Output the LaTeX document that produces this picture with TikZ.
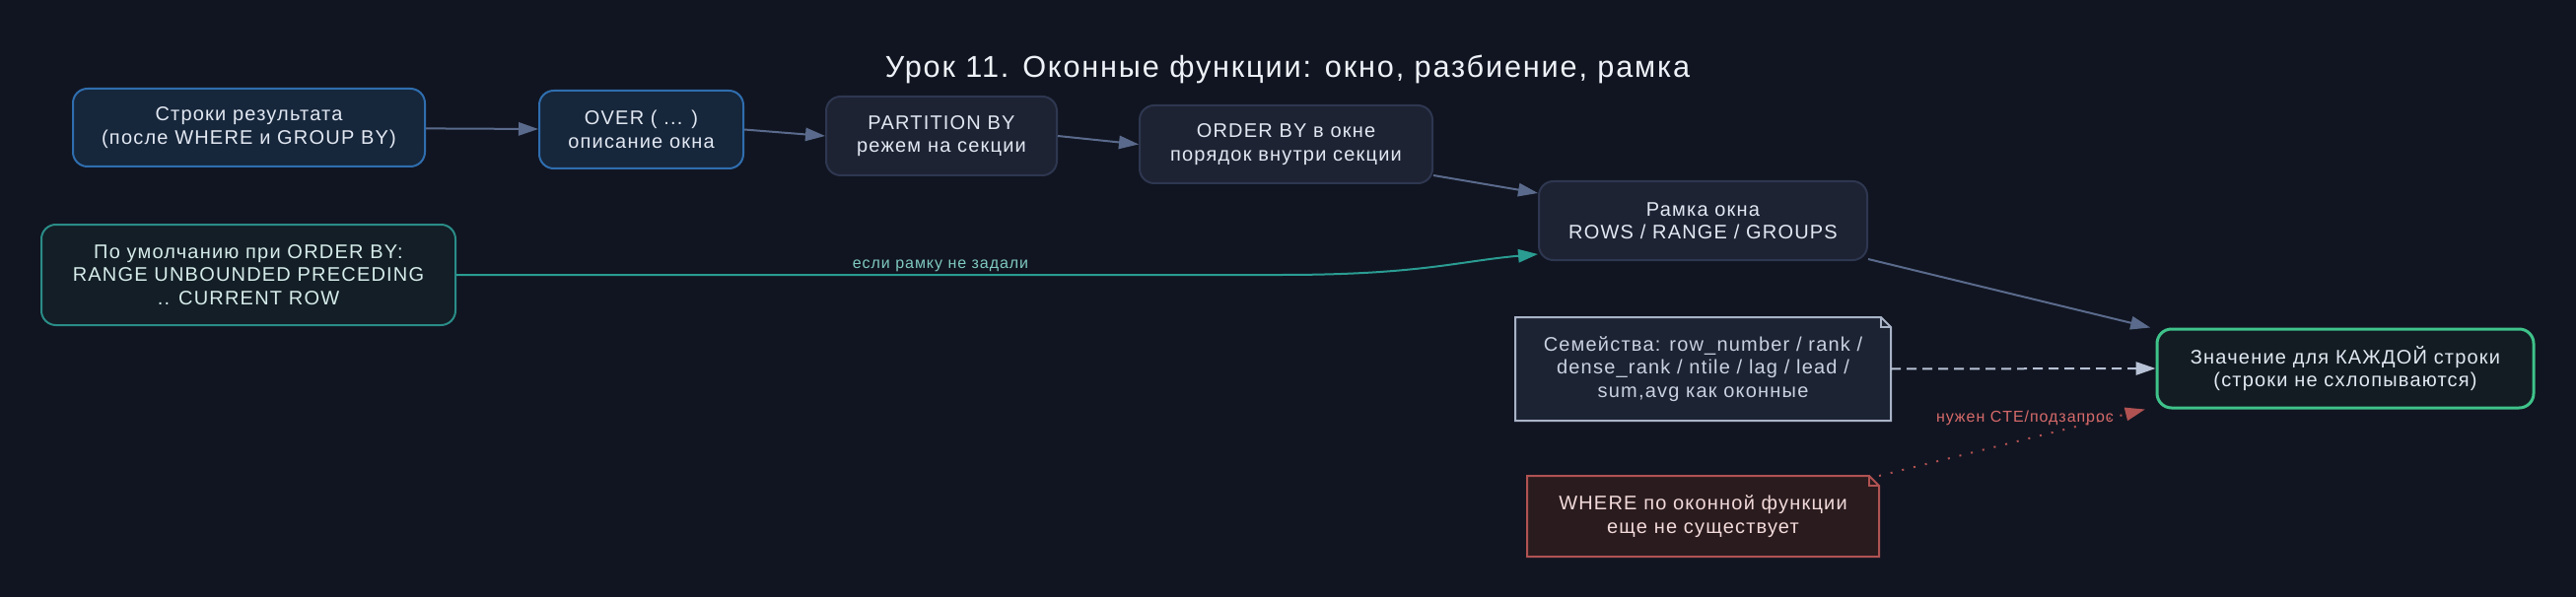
\documentclass[tikz,border=0pt]{standalone}
\usepackage{fontspec}
\setmainfont{Liberation Sans}[LetterSpace=6]
\usetikzlibrary{arrows.meta}

\definecolor{bgcol}{HTML}{111521}
\definecolor{txtcol}{HTML}{E2E8F2}
\definecolor{titlecol}{HTML}{EEF2F8}
\definecolor{bluefill}{HTML}{16263B}
\definecolor{blueline}{HTML}{2F6DAE}
\definecolor{greyfill}{HTML}{1E2334}
\definecolor{greyline}{HTML}{2E3750}
\definecolor{tealfill}{HTML}{131E26}
\definecolor{tealline}{HTML}{2A8C87}
\definecolor{tealtxt}{HTML}{D6ECEA}
\definecolor{greenfill}{HTML}{121C22}
\definecolor{greenline}{HTML}{3FC28A}
\definecolor{famfill}{HTML}{1C2333}
\definecolor{famline}{HTML}{A9B4C8}
\definecolor{famtxt}{HTML}{C9D2E0}
\definecolor{redfill}{HTML}{2A1B1E}
\definecolor{redline}{HTML}{B05252}
\definecolor{redtxt}{HTML}{F2DADA}
\definecolor{edgecol}{HTML}{5A6A8C}
\definecolor{tealedge}{HTML}{2A9C92}
\definecolor{teallabel}{HTML}{7FC9C1}
\definecolor{redlabel}{HTML}{D66A6A}
\definecolor{dashcol}{HTML}{B8C2D6}

\tikzset{every picture/.style={line width=0.75pt}}
\tikzset{
  box/.style={rounded corners=11pt, line width=1.5pt, inner sep=0pt, align=center, text=txtcol, font=\fontsize{15}{17.5}\selectfont},
  bluebox/.style={box, draw=blueline, fill=bluefill},
  greybox/.style={box, draw=greyline, fill=greyfill},
  tealbox/.style={box, draw=tealline, fill=tealfill, text=tealtxt},
  greenbox/.style={box, draw=greenline, fill=greenfill, line width=2.25pt},
  notebox/.style={box, rounded corners=0pt, draw=none},
  arr/.style={line width=1.5pt, -{Triangle[length=15pt,width=10pt]}},
  edgelabel/.style={font=\fontsize{12}{14}\selectfont, inner sep=1pt},
}

\begin{document}
\begin{tikzpicture}[x=0.75pt,y=0.75pt,yscale=-1,xscale=1]
%background, sets the size of the diagram
\fill [bgcol] (0,0) rectangle (2613,606);
\useasboundingbox (0,0) rectangle (2613,606);

% Title
\node (title) [text=titlecol, font=\fontsize{23}{27}\selectfont] at (1306,70) {Урок 11. Оконные функции: окно, разбиение, рамка};

%Top row
\node (rows) [bluebox, minimum width=267.75pt, minimum height=59.25pt] at (252.5,129.5) {Строки результата\\(после WHERE и GROUP BY)};
\node (over) [bluebox, minimum width=155.25pt, minimum height=59.25pt] at (650.5,131.5) {OVER ( ... )\\описание окна};
\node (part) [greybox, minimum width=175.5pt, minimum height=60pt] at (955,138) {PARTITION BY\\режем на секции};
\node (ordr) [greybox, minimum width=222.75pt, minimum height=59.25pt] at (1304.5,146.5) {ORDER BY в окне\\порядок внутри секции};
\node (frame) [greybox, minimum width=249.75pt, minimum height=60pt] at (1727.5,224) {Рамка окна\\ROWS / RANGE / GROUPS};

%Default frame
\node (deflt) [tealbox, minimum width=315pt, minimum height=76.5pt] at (252,279) {По умолчанию при ORDER BY:\\RANGE UNBOUNDED PRECEDING\\.. CURRENT ROW};

%Result
\node (value) [greenbox, minimum width=286.5pt, minimum height=60pt] at (2379,374) {Значение для КАЖДОЙ строки\\(строки не схлопываются)};

%Notes
\node (fam) [notebox, fill=famfill, text=famtxt, minimum width=284.25pt, minimum height=77.25pt] at (1727.5,374.5) {Семейства: row\_number / rank /\\dense\_rank / ntile / lag / lead /\\sum,avg как оконные};
\fill [bgcol] ([xshift=-7.5pt]fam.north east) -- (fam.north east) -- ([yshift=7.5pt]fam.north east) -- cycle;
\draw [famline, line width=1.5pt] (fam.north west) -- ([xshift=-7.5pt]fam.north east) -- ([yshift=7.5pt]fam.north east) -- (fam.south east) -- (fam.south west) -- cycle;
\draw [famline, line width=1.5pt] ([xshift=-7.5pt]fam.north east) -- ([xshift=-7.5pt,yshift=7.5pt]fam.north east) -- ([yshift=7.5pt]fam.north east);

\node (where) [notebox, fill=redfill, text=redtxt, minimum width=266.25pt, minimum height=60pt] at (1727.5,524) {WHERE по оконной функции\\еще не существует};
\fill [bgcol] ([xshift=-7.5pt]where.north east) -- (where.north east) -- ([yshift=7.5pt]where.north east) -- cycle;
\draw [redline, line width=1.5pt] (where.north west) -- ([xshift=-7.5pt]where.north east) -- ([yshift=7.5pt]where.north east) -- (where.south east) -- (where.south west) -- cycle;
\draw [redline, line width=1.5pt] ([xshift=-7.5pt]where.north east) -- ([xshift=-7.5pt,yshift=7.5pt]where.north east) -- ([yshift=7.5pt]where.north east);

%Connectors
\draw [arr, edgecol] (rows) -- (over);
\draw [arr, edgecol] (over.east) -- (part.west);
\draw [arr, edgecol] (part.east) -- (ordr.west);
\draw [arr, edgecol] ([yshift=-6.75pt]ordr.south east) -- ([yshift=9.75pt]frame.north west);
\draw [arr, tealedge] (deflt.east) -- (1300,279) .. controls (1440,279) and (1480,265) .. ([yshift=-5.25pt]frame.south west);
\draw [arr, edgecol] ([yshift=-1.5pt]frame.south east) -- ([xshift=-4pt]value.north west);
\draw [arr, dashcol, dash pattern=on 7.5pt off 4.5pt] (fam.east) -- (value.west);
\draw [arr, redline, dash pattern=on 1.5pt off 7.5pt] (where.north east) -- ([xshift=-8pt]value.south west);

% Edge labels
\node (lbl1) [edgelabel, text=teallabel] at (954,270) {если рамку не задали};
\node (lbl2) [edgelabel, text=redlabel] at (2054,424) {нужен CTE/подзапрос};

\end{tikzpicture}
\end{document}
